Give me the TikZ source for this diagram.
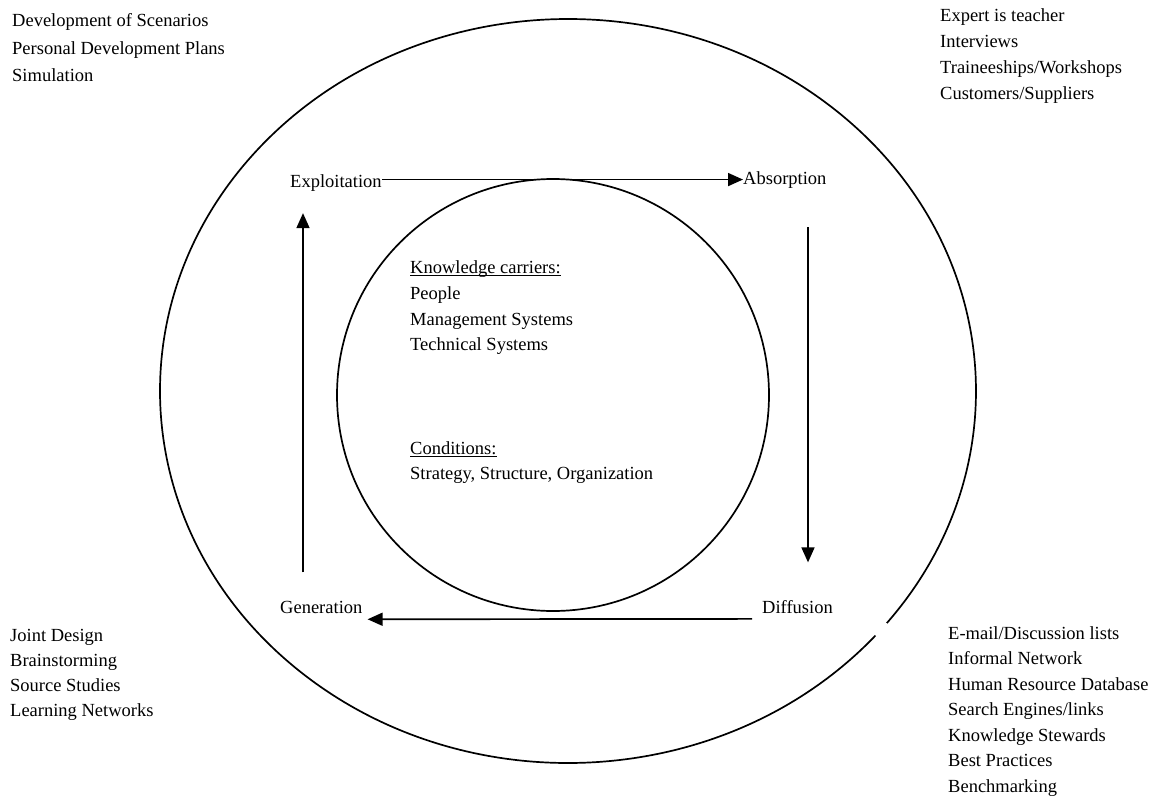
\documentclass[tikz,border=0pt]{standalone}
\usepackage{fontspec}
\setmainfont{Liberation Serif}
\usetikzlibrary{arrows.meta}
\newcommand{\ulx}[1]{\setbox0\hbox{#1}\rlap{\rule[-2.6pt]{\wd0}{0.9pt}}\box0}
\newcommand{\lst}[2]{\fontsize{18.5}{#1}\selectfont\begin{tabular}[t]{@{}l@{}}#2\end{tabular}}
\begin{document}
\begin{tikzpicture}[x=1pt,y=-1pt,
  txt/.style={anchor=base west,inner sep=0pt,font=\fontsize{18.5}{25.5}\selectfont},
  ring/.style={line width=1.7pt},
  arr/.style={line width=1.7pt,-{Triangle[length=15pt,width=13pt]}}]
\useasboundingbox (0,0) rectangle (1159,811);
% circles
\coordinate (oc) at (568,391);
\draw[ring] (oc) ++(41.1:408 and 372) arc[start angle=41.1,end angle=398.6,x radius=408,y radius=372];
\coordinate (ic) at (553,395);
\draw[ring] (ic) circle[radius=216];
% corner lists
\node[txt] (tl) at (12,26.7) {\lst{27.5}{Development of Scenarios\\Personal Development Plans\\Simulation}};
\node[txt] (tr) at (940,21) {\lst{26}{Expert is teacher\\Interviews\\Traineeships/Workshops\\Customers/Suppliers}};
\node[txt] (bl) at (10,641) {\lst{25.3}{Joint Design\\Brainstorming\\Source Studies\\Learning Networks}};
\node[txt] (br) at (948,639) {\lst{25.5}{E-mail/Discussion lists\\Informal Network\\Human Resource Database\\Search Engines/links\\Knowledge Stewards\\Best Practices\\Benchmarking}};
% inner texts
\node[txt] (kc) at (410,273.5) {\lst{25.8}{\ulx{Knowledge carriers:}\\People\\Management Systems\\Technical Systems}};
\node[txt] (cd) at (410,454) {\lst{25}{\ulx{Conditions:}\\Strategy, Structure, Organization}};
% cycle labels
\node[txt] (expl) at (290,187) {Exploitation};
\node[txt] (absb) at (743,184) {Absorption};
\node[txt] (gen) at (280,613) {Generation};
\node[txt] (diff) at (762,613) {Diffusion};
% arrows
\draw[arr] (expl.east |- absb.west) -- (absb.west);
\draw[arr] ([xshift=65pt,yshift=-39pt]absb.south west) -- ([xshift=46pt,yshift=37.4pt]diff.north west);
\draw[arr] ([xshift=-10pt,yshift=-12.3pt]diff.west) -- ([xshift=5pt,yshift=-12.3pt]gen.east);
\draw[arr] ([xshift=23pt,yshift=41pt]gen.south west) -- ([xshift=13pt,yshift=-22pt]expl.south west);
\end{tikzpicture}
\end{document}
